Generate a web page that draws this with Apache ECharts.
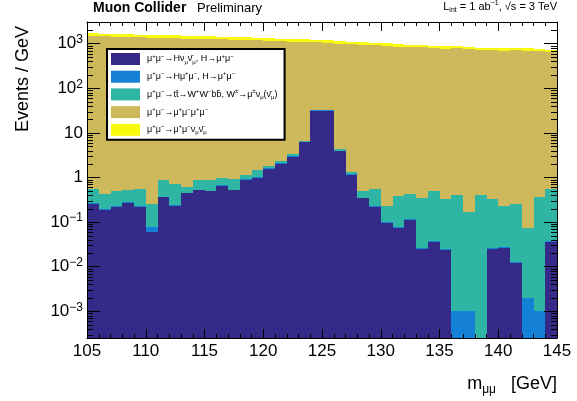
<!DOCTYPE html>
<html><head><meta charset="utf-8">
<script src="https://cdn.jsdelivr.net/npm/echarts@6/dist/echarts.min.js"></script>
<style>html,body{margin:0;padding:0;background:#fff}#c{width:577px;height:401px}</style>
</head><body><div id="c"></div>
<script>
// ---- data (events / GeV per 1 GeV bin) ----
const binLow = [105,106,107,108,109,110,111,112,113,114,115,116,117,118,119,120,121,122,123,124,
                125,126,127,128,129,130,131,132,133,134,135,136,137,138,139,140,141,142,143,144];
const binWidth = 1;
const hNuNu = [0.25,0.187,0.215,0.27,0.215,0.061,0.36,0.23,0.44,0.515,0.49,0.645,0.515,0.88,0.99,1.55,2.0,2.9,6.1,31,
               31,3.9,1.14,0.34,0.22,0.097,0.073,0.11,0.0245,0.036,0.0237,0,0,0,0.0245,0.026,0.012,0,0,0.035];
const hMuMu = [0.013,0.008,0.01,0.012,0.01,0.017,0.012,0.012,0.015,0.02,0.02,0.025,0.02,0.03,0.035,0.05,0.07,0.1,0.2,1.0,
               1.0,0.13,0.04,0.013,0.009,0.005,0.003,0.005,0.0015,0.002,0.0012,0.001,0.001,0,0.0015,0.0015,0.0007,0.002,0.001,0.002];
const ttbar = [0.28,0.23,0.28,0.24,0.32,0.177,0.51,0.46,0.15,0.34,0.37,0.32,0.375,0.23,0.445,0.21,0.27,0.31,0.28,0.4,
               0.4,0.26,0.17,0.153,0.315,0.128,0.315,0.31,0.326,0.46,0.31,0.404,0.17,0.405,0.309,0.2,0.238,0.07,0.37,0.507];
const mu4 = [1490,1465,1440,1420,1395,1375,1350,1330,1305,1285,1265,1245,1225,1210,1185,1160,1130,1105,1080,1050,
             1020,995,965,940,915,885,860,830,822,790,780,785,745,710,705,685,705,695,672,645];
const muMuNuNu = [225,220,215,212,208,205,200,198,195,190,188,185,182,180,176,172,168,165,160,156,
                  152,148,145,140,136,132,128,124,122,118,116,114,111,108,105,103,105,103,100,80];
const processLabels = [
  'μ^{+}μ^{-}→Hν_{μ}ν̄_{μ}, H→μ^{+}μ^{-}',
  'μ^{+}μ^{-}→Hμ^{+}μ^{-}, H→μ^{+}μ^{-}',
  'μ^{+}μ^{-}→tt̄→W^{+}W^{-}bb̄, W^{±}→μ^{±}ν_{μ}(ν̄_{μ})',
  'μ^{+}μ^{-}→μ^{+}μ^{-}μ^{+}μ^{-}',
  'μ^{+}μ^{-}→μ^{+}μ^{-}ν_{μ}ν̄_{μ}'
];
const xMin = 105, xMax = 145, xInterval = 5;
const yMin = 2.52e-4, yMax = 3066;

const FONT = 'Liberation Sans';
const colors = ['#352a87', '#1481d6', '#2eb5a3', '#cdb95b', '#f9fb0e'];
const keys = ['hnn', 'hmm', 'tt', 'mu4', 'mmnn'];
const valuesList = [hNuNu, hMuMu, ttbar, mu4, muMuNuNu];

function toRich(str, b, u, d) {
  return str.split(/(\^\{[^}]*\}|_\{[^}]*\})/).filter(s => s.length).map(s => {
    if (s.startsWith('^{')) return '{' + u + '|' + s.slice(2, -1).replace('-', '−') + '}';
    if (s.startsWith('_{')) return '{' + d + '|' + s.slice(2, -1) + '}';
    return '{' + b + '|' + s + '}';
  }).join('');
}

function renderBin(params, api) {
  const a = api.coord([api.value(0), api.value(3)]);
  const b = api.coord([api.value(1), api.value(2)]);
  const x0 = Math.round(a[0]), x1 = Math.round(b[0]);
  const y0 = Math.round(a[1]), y1 = Math.round(b[1]);
  return { type: 'rect', shape: { x: x0, y: y0, width: x1 - x0, height: y1 - y0 },
           style: { fill: api.visual('color') } };
}

const series = [];
const cum = binLow.map(() => 0);
valuesList.forEach((vals, k) => {
  const data = [];
  binLow.forEach((x, i) => {
    const lo = cum[i];
    const hi = lo + vals[i];
    cum[i] = hi;
    if (vals[i] > 0) data.push([x, x + binWidth, lo > 0 ? lo : yMin, hi]);
  });
  series.push({
    type: 'custom', name: keys[k], coordinateSystem: 'cartesian2d',
    itemStyle: { color: colors[k] }, data: data, renderItem: renderBin,
    encode: { x: [0, 1], y: [2, 3] }, clip: true, silent: true, z: 2
  });
});

// minor log ticks (2..9 x 10^n)
const minorY = [];
for (let n = -4; n <= 3; n++) for (let k = 2; k <= 9; k++) {
  const v = k * Math.pow(10, n);
  if (v > yMin && v < yMax) minorY.push([xMin, v]);
}
series.push({
  type: 'custom', name: 'minorTicks', coordinateSystem: 'cartesian2d', silent: true, z: 20,
  data: minorY, encode: { x: 0, y: 1 },
  renderItem: function (params, api) {
    const l = api.coord([xMin, api.value(1)]);
    const r = api.coord([xMax, api.value(1)]);
    const y = Math.round(l[1]) + 0.5;
    return { type: 'group', children: [
      { type: 'line', shape: { x1: l[0], y1: y, x2: l[0] + 6, y2: y }, style: { stroke: '#000', lineWidth: 1 } },
      { type: 'line', shape: { x1: r[0], y1: y, x2: r[0] - 6, y2: y }, style: { stroke: '#000', lineWidth: 1 } }
    ] };
  }
});

const legendMap = {};
keys.forEach((k, i) => legendMap[k] = toRich(processLabels[i], 't', 'u', 'd'));

function yLabel(v) {
  const lg = Math.log10(v);
  const n = Math.round(lg);
  if (Math.abs(lg - n) > 1e-6) return '';
  if (n === 0) return '{b|1}';
  if (n === 1) return '{b|10}';
  return '{b|10}{s|' + (n < 0 ? '−' + (-n) : n) + '}';
}

const axisLine = { show: true, lineStyle: { color: '#000', width: 1 } };
const chart = echarts.init(document.getElementById('c'), null, { renderer: 'canvas' });
chart.setOption({
  animation: false,
  textStyle: { fontFamily: FONT },
  grid: { left: 87, right: 20, top: 22, bottom: 63, containLabel: false },
  xAxis: [{
    type: 'value', min: xMin, max: xMax, interval: xInterval, position: 'bottom', z: 10,
    axisLine: axisLine, splitLine: { show: false },
    axisTick: { inside: true, length: 9, lineStyle: { color: '#000' } },
    minorTick: { show: true, splitNumber: 5, length: 4, lineStyle: { color: '#000' } },
    axisLabel: { color: '#000', fontSize: 17, margin: 5, fontFamily: FONT }
  }, {
    type: 'value', min: xMin, max: xMax, interval: xInterval, position: 'top', z: 10,
    axisLine: axisLine, splitLine: { show: false },
    axisTick: { inside: true, length: 9, lineStyle: { color: '#000' } },
    minorTick: { show: true, splitNumber: 5, length: 4, lineStyle: { color: '#000' } },
    axisLabel: { show: false }
  }],
  yAxis: [{
    type: 'log', logBase: 10, min: yMin, max: yMax, position: 'left', z: 10,
    axisLine: axisLine, splitLine: { show: false },
    axisTick: { inside: true, length: 13, lineStyle: { color: '#000' } },
    axisLabel: {
      color: '#000', margin: 4, formatter: yLabel,
      rich: {
        b: { fontSize: 17, lineHeight: 20, fontFamily: FONT, color: '#000' },
        s: { fontSize: 12, lineHeight: 8, verticalAlign: 'top', fontFamily: FONT, color: '#000' }
      }
    }
  }, {
    type: 'log', logBase: 10, min: yMin, max: yMax, position: 'right', z: 10,
    axisLine: axisLine, splitLine: { show: false },
    axisTick: { inside: true, length: 13, lineStyle: { color: '#000' } },
    axisLabel: { show: false }
  }],
  legend: {
    left: 107, top: 49, orient: 'vertical', icon: 'rect', itemWidth: 29, itemHeight: 12, itemGap: 5.7,
    padding: [4, 7, 4, 4], backgroundColor: '#fff', borderColor: '#000', borderWidth: 2, borderRadius: 0,
    selectedMode: false, z: 30, data: keys,
    formatter: n => legendMap[n],
    textStyle: {
      color: '#000', padding: [0, 0, 0, 2],
      rich: {
        t: { fontSize: 9, lineHeight: 12, fontFamily: FONT, color: '#000' },
        u: { fontSize: 6, lineHeight: 6, verticalAlign: 'top', fontFamily: FONT, color: '#000' },
        d: { fontSize: 6, lineHeight: 6, verticalAlign: 'bottom', fontFamily: FONT, color: '#000' }
      }
    }
  },
  graphic: [
    { type: 'text', x: 93, y: 8, z: 50,
      style: { text: 'Muon Collider', font: 'bold 14px "Liberation Sans"', fill: '#000', verticalAlign: 'middle' } },
    { type: 'text', x: 197, y: 8, z: 50,
      style: { text: 'Preliminary', font: '13px "Liberation Sans"', fill: '#000', verticalAlign: 'middle' } },
    { type: 'text', x: 557, y: 7, z: 50,
      style: { text: toRich('L_{int} = 1 ab^{-1}, √s = 3 TeV', 'n', 'p', 'q'), align: 'right', verticalAlign: 'middle',
        rich: {
          n: { fontSize: 11, lineHeight: 14, fontFamily: FONT, fill: '#000' },
          p: { fontSize: 7, lineHeight: 8, verticalAlign: 'top', fontFamily: FONT, fill: '#000' },
          q: { fontSize: 7, lineHeight: 8, verticalAlign: 'bottom', fontFamily: FONT, fill: '#000' }
        } } },
    { type: 'text', x: 23, y: 26, rotation: Math.PI / 2, z: 50,
      style: { text: 'Events / GeV', font: '18px "Liberation Sans"', fill: '#000', align: 'right', verticalAlign: 'middle' } },
    { type: 'text', x: 557, y: 384, z: 50,
      style: { text: toRich('m_{μμ}   [GeV]', 'm', 'p', 'q'), align: 'right', verticalAlign: 'middle',
        rich: {
          m: { fontSize: 18, lineHeight: 24, fontFamily: FONT, fill: '#000' },
          p: { fontSize: 12, lineHeight: 10, verticalAlign: 'top', fontFamily: FONT, fill: '#000' },
          q: { fontSize: 12, lineHeight: 10, verticalAlign: 'bottom', fontFamily: FONT, fill: '#000' }
        } } }
  ],
  series: series
});
</script></body></html>
